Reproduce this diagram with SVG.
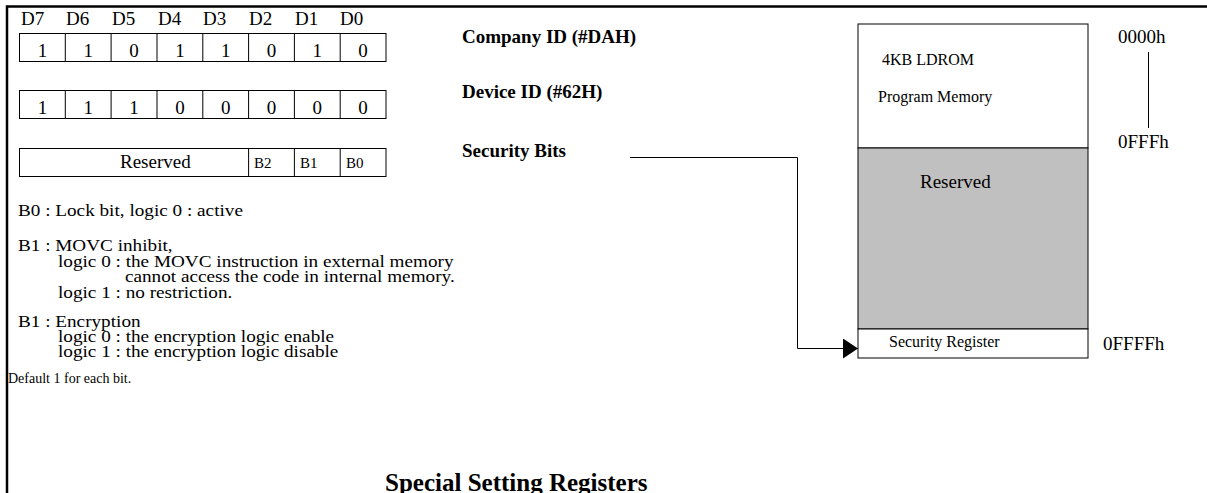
<svg xmlns="http://www.w3.org/2000/svg" width="1207" height="493" viewBox="0 0 1207 493">
  <style>
    .t { font-family: "Liberation Serif", "Times New Roman", serif; fill: #000; }
    .b { font-weight: bold; }
    .cell { fill: #fff; stroke: #000; stroke-width: 1; }
    .ln { fill: none; stroke: #000; stroke-width: 1; }
    .frame { fill: none; stroke: #000; stroke-width: 2.5; }
  </style>
  <defs>
    <marker id="arrow" markerWidth="16" markerHeight="20" refX="15" refY="10" orient="auto" markerUnits="userSpaceOnUse">
      <path d="M0,0 L15,10 L0,20 Z" fill="#000"/>
    </marker>
  </defs>
  <rect width="1207" height="493" fill="#fff"/>

  <!-- page frame -->
  <path class="frame" d="M7,493 V6.5 H1207"/>

  <!-- bit headers -->
  <g id="bit-headers" class="t" font-size="19">
    <text x="21" y="25">D7</text>
    <text x="66" y="25">D6</text>
    <text x="112" y="25">D5</text>
    <text x="158" y="25">D4</text>
    <text x="203" y="25">D3</text>
    <text x="249" y="25">D2</text>
    <text x="295" y="25">D1</text>
    <text x="340" y="25">D0</text>
  </g>

  <!-- company id register -->
  <g id="company-id-register">
    <rect class="cell" x="19.5" y="33.5" width="366.5" height="28"/>
    <path class="ln" d="M65.3,33.5 V61.5 M111.1,33.5 V61.5 M157,33.5 V61.5 M202.8,33.5 V61.5 M248.6,33.5 V61.5 M294.4,33.5 V61.5 M340.2,33.5 V61.5"/>
    <g class="t" font-size="19" text-anchor="middle">
      <text x="42.4" y="56.5">1</text>
      <text x="88.2" y="56.5">1</text>
      <text x="134" y="56.5">0</text>
      <text x="179.9" y="56.5">1</text>
      <text x="225.7" y="56.5">1</text>
      <text x="271.5" y="56.5">0</text>
      <text x="317.3" y="56.5">1</text>
      <text x="363.1" y="56.5">0</text>
    </g>
  </g>

  <!-- device id register -->
  <g id="device-id-register">
    <rect class="cell" x="19.5" y="90.5" width="366.5" height="28"/>
    <path class="ln" d="M65.3,90.5 V118.5 M111.1,90.5 V118.5 M157,90.5 V118.5 M202.8,90.5 V118.5 M248.6,90.5 V118.5 M294.4,90.5 V118.5 M340.2,90.5 V118.5"/>
    <g class="t" font-size="19" text-anchor="middle">
      <text x="42.4" y="113.5">1</text>
      <text x="88.2" y="113.5">1</text>
      <text x="134" y="113.5">1</text>
      <text x="179.9" y="113.5">0</text>
      <text x="225.7" y="113.5">0</text>
      <text x="271.5" y="113.5">0</text>
      <text x="317.3" y="113.5">0</text>
      <text x="363.1" y="113.5">0</text>
    </g>
  </g>

  <!-- security bits register -->
  <g id="security-register-bits">
    <rect class="cell" x="19.5" y="148.5" width="366.5" height="28"/>
    <path class="ln" d="M248.6,148.5 V176.5 M294.4,148.5 V176.5 M340.2,148.5 V176.5"/>
    <text class="t" x="120" y="167.5" font-size="19">Reserved</text>
    <g class="t" font-size="15">
      <text x="254" y="167.5">B2</text>
      <text x="300" y="167.5">B1</text>
      <text x="346" y="167.5">B0</text>
    </g>
  </g>

  <!-- bit descriptions (set slightly wide) -->
  <g id="bit-notes" class="t" font-size="17" transform="scale(1.13,1)">
    <text x="15.9" y="216">B0 : Lock bit, logic 0 : active</text>
    <text x="15.9" y="251">B1 : MOVC inhibit,</text>
    <text x="51.3" y="267">logic 0 : the MOVC instruction in external memory</text>
    <text x="110.6" y="282">cannot access the code in internal memory.</text>
    <text x="51.3" y="298">logic 1 : no restriction.</text>
    <text x="15.9" y="327">B1 : Encryption</text>
    <text x="51.3" y="342">logic 0 : the encryption logic enable</text>
    <text x="51.3" y="357">logic 1 : the encryption logic disable</text>
  </g>
  <text id="default-note" class="t" x="8" y="383" font-size="14">Default 1 for each bit.</text>

  <!-- register labels -->
  <g id="register-labels" class="t b" font-size="19">
    <text x="462" y="43">Company ID (#DAH)</text>
    <text x="462" y="98">Device ID (#62H)</text>
    <text x="462" y="157">Security Bits</text>
  </g>

  <!-- memory map -->
  <g id="memory-map">
    <rect x="858" y="24" width="230" height="124" fill="#fff" stroke="#000" stroke-width="1"/>
    <rect x="858" y="148" width="230" height="181" fill="#c0c0c0" stroke="#000" stroke-width="1"/>
    <rect x="858" y="329" width="230" height="29" fill="#fff" stroke="#000" stroke-width="1"/>
    <text class="t" x="882" y="65" font-size="16">4KB LDROM</text>
    <text class="t" x="878" y="102" font-size="16">Program Memory</text>
    <text class="t" x="920" y="188" font-size="19">Reserved</text>
    <text class="t" x="889" y="347" font-size="16">Security Register</text>
  </g>

  <!-- address labels -->
  <g id="addresses" class="t" font-size="19">
    <text x="1118" y="43">0000h</text>
    <path class="ln" d="M1148.5,52 V128"/>
    <text x="1118" y="148">0FFFh</text>
    <text x="1103" y="350">0FFFFh</text>
  </g>

  <!-- connectors -->
  <g id="connectors">
    <path class="ln" d="M630,157.5 H797.5 V348.5 H858" marker-end="url(#arrow)"/>
  </g>

  <!-- caption -->
  <text id="caption" class="t b" x="385" y="491" font-size="25">Special Setting Registers</text>
</svg>
